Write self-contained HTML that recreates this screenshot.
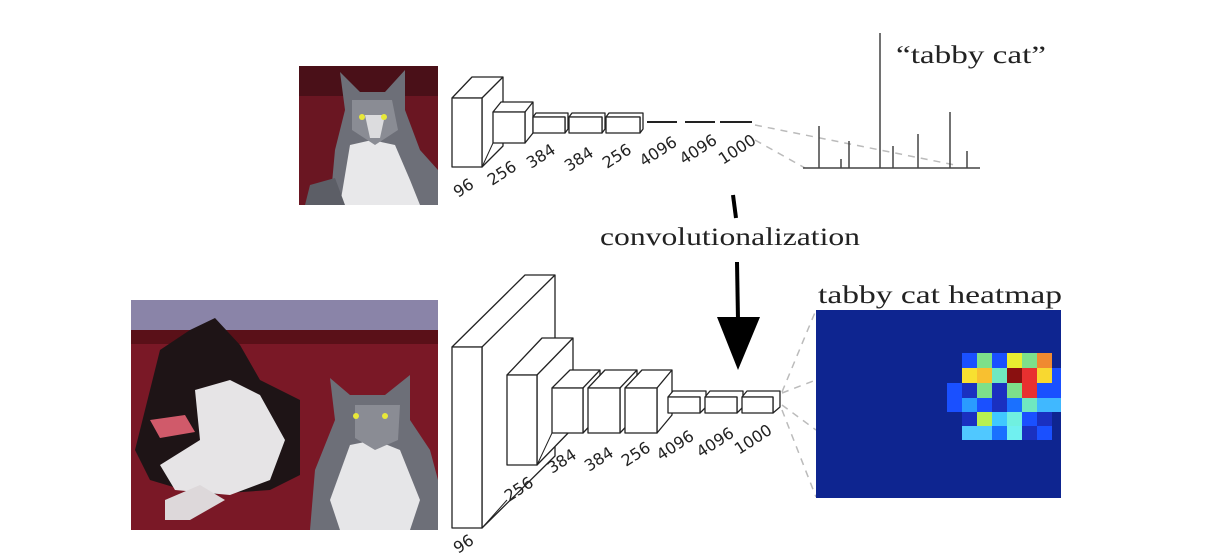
<!DOCTYPE html>
<html><head><meta charset="utf-8"><style>
html,body{margin:0;padding:0;background:#fff;}
svg{display:block;}
text{font-family:"Liberation Serif",serif;fill:#222;}
.n{font-family:"DejaVu Sans","Liberation Sans",sans-serif;font-size:16px;fill:#222;}
.b{fill:#fff;stroke:#222;stroke-width:1.3;stroke-linejoin:round;}
.d{stroke:#bbb;stroke-width:1.5;stroke-dasharray:7,6;fill:none;}
</style></head><body>
<svg width="1223" height="556" viewBox="0 0 1223 556" xmlns="http://www.w3.org/2000/svg">
<!-- top cat photo -->
<rect x="299" y="66" width="139" height="139" fill="#6a1622"/>
<rect x="299" y="66" width="139" height="30" fill="#4a1018"/>
<path d="M330 205 L335 150 L345 110 L340 72 L360 92 L385 92 L405 70 L405 110 L420 150 L438 170 L438 205Z" fill="#6d6f78"/>
<path d="M340 205 L350 145 L372 140 L395 145 L410 180 L420 205Z" fill="#e8e8ea"/>
<path d="M352 100 L392 100 L398 130 L375 145 L352 130Z" fill="#8a8c94"/>
<path d="M365 115 L385 115 L380 138 L370 138Z" fill="#dcdcde"/>
<circle cx="362" cy="117" r="3" fill="#e8e838"/><circle cx="384" cy="117" r="3" fill="#e8e838"/>
<path d="M305 205 L310 185 L335 178 L345 205Z" fill="#5c5e66"/>
<!-- top network -->
<g>
<polygon class="b" points="452,98 472,77 503,77 503,146 482,167 482,98"/>
<line x1="482" y1="98" x2="503" y2="77" stroke="#222" stroke-width="1.3"/>
<rect class="b" x="452" y="98" width="30" height="69"/>
<polygon class="b" points="493,112 501,102 533,102 533,133 525,143 525,112"/>
<line x1="525" y1="112" x2="533" y2="102" stroke="#222" stroke-width="1.3"/>
<rect class="b" x="493" y="112" width="32" height="31"/>
<polygon class="b" points="533,117 536,113 568,113 568,129 565,133 565,117"/>
<rect class="b" x="533" y="117" width="32" height="16"/>
<polygon class="b" points="569,117 572,113 605,113 605,129 602,133 602,117"/>
<rect class="b" x="569" y="117" width="33" height="16"/>
<polygon class="b" points="606,117 609,113 643,113 643,129 640,133 640,117"/>
<rect class="b" x="606" y="117" width="34" height="16"/>
<line x1="647" y1="122" x2="677" y2="122" stroke="#222" stroke-width="2"/>
<line x1="685" y1="122" x2="715" y2="122" stroke="#222" stroke-width="2"/>
<line x1="720" y1="122" x2="752" y2="122" stroke="#222" stroke-width="2"/>
<line x1="482" y1="167" x2="493" y2="143" stroke="#222" stroke-width="1"/>
</g>
<text class="n" transform="translate(458,198) rotate(-33)">96</text>
<text class="n" transform="translate(492,186) rotate(-33)">256</text>
<text class="n" transform="translate(531,169) rotate(-33)">384</text>
<text class="n" transform="translate(569,172) rotate(-33)">384</text>
<text class="n" transform="translate(607,169) rotate(-33)">256</text>
<text class="n" transform="translate(644,167) rotate(-33)">4096</text>
<text class="n" transform="translate(684,165) rotate(-33)">4096</text>
<text class="n" transform="translate(723,165) rotate(-33)">1000</text>
<!-- top dashed -->
<line class="d" x1="755" y1="125" x2="955" y2="165"/>
<line class="d" x1="755" y1="140" x2="805" y2="168"/>
<!-- bar chart -->
<g stroke="#444" stroke-width="1.5">
<line x1="803" y1="168" x2="980" y2="168"/>
<line x1="819" y1="168" x2="819" y2="126"/>
<line x1="841" y1="168" x2="841" y2="159"/>
<line x1="849" y1="168" x2="849" y2="141"/>
<line x1="880" y1="168" x2="880" y2="33"/>
<line x1="893" y1="168" x2="893" y2="146"/>
<line x1="918" y1="168" x2="918" y2="134"/>
<line x1="950" y1="168" x2="950" y2="112"/>
<line x1="967" y1="168" x2="967" y2="151"/>
</g>
<text x="896" y="63" font-size="25" textLength="150" lengthAdjust="spacingAndGlyphs">“tabby cat”</text>
<!-- arrow -->
<path d="M733 195 L736 218" stroke="#000" stroke-width="4" fill="none"/>
<path d="M737 262 L738 320" stroke="#000" stroke-width="4" fill="none"/>
<polygon points="717,317 760,317 738,370" fill="#000"/>
<text x="600" y="245" font-size="25" textLength="260" lengthAdjust="spacingAndGlyphs">convolutionalization</text>
<!-- bottom photo -->
<rect x="131" y="300" width="307" height="230" fill="#7a1826"/>
<rect x="131" y="300" width="307" height="30" fill="#8a84a8"/>
<rect x="131" y="330" width="307" height="14" fill="#5a1018"/>
<path d="M145 410 L160 350 L190 330 L215 318 L240 345 L260 380 L290 395 L300 400 L300 475 L270 490 L200 495 L150 480 L135 450Z" fill="#1e1416"/>
<path d="M195 390 L230 380 L260 395 L285 440 L270 480 L230 495 L175 490 L160 465 L200 440Z" fill="#e6e4e6"/>
<path d="M150 420 L185 415 L195 432 L160 438Z" fill="#d05a6a"/>
<path d="M165 500 L200 485 L225 500 L190 520 L165 520Z" fill="#ddd8da"/>
<path d="M310 530 L315 470 L335 420 L330 378 L350 395 L385 395 L410 375 L410 420 L430 450 L438 480 L438 530Z" fill="#6d6f78"/>
<path d="M330 500 L350 445 L375 440 L400 450 L420 500 L410 530 L340 530Z" fill="#e6e6e8"/>
<path d="M355 405 L400 405 L398 440 L375 450 L355 438Z" fill="#8a8c94"/>
<circle cx="356" cy="416" r="3" fill="#e8e838"/><circle cx="385" cy="416" r="3" fill="#e8e838"/>
<!-- bottom network -->
<g>
<polygon class="b" points="452,347 525,275 555,275 555,456 482,528 482,347"/>
<line x1="482" y1="347" x2="555" y2="275" stroke="#222" stroke-width="1.3"/>
<rect class="b" x="452" y="347" width="30" height="181"/>
<polygon class="b" points="507,375 542,338 573,338 573,428 537,465 537,375"/>
<line x1="537" y1="375" x2="573" y2="338" stroke="#222" stroke-width="1.3"/>
<rect class="b" x="507" y="375" width="30" height="90"/>
<polygon class="b" points="552,388 570,370 600,370 600,415 583,433 583,388"/>
<line x1="583" y1="388" x2="600" y2="370" stroke="#222" stroke-width="1.3"/>
<rect class="b" x="552" y="388" width="31" height="45"/>
<polygon class="b" points="588,388 605,370 637,370 637,415 620,433 620,388"/>
<line x1="620" y1="388" x2="637" y2="370" stroke="#222" stroke-width="1.3"/>
<rect class="b" x="588" y="388" width="32" height="45"/>
<polygon class="b" points="625,388 642,370 672,370 672,415 657,433 657,388"/>
<line x1="657" y1="388" x2="672" y2="370" stroke="#222" stroke-width="1.3"/>
<rect class="b" x="625" y="388" width="32" height="45"/>
<polygon class="b" points="668,397 673,391 706,391 706,407 700,413 700,397"/>
<rect class="b" x="668" y="397" width="32" height="16"/>
<polygon class="b" points="705,397 710,391 743,391 743,407 737,413 737,397"/>
<rect class="b" x="705" y="397" width="32" height="16"/>
<polygon class="b" points="742,397 747,391 780,391 780,407 773,413 773,397"/>
<rect class="b" x="742" y="397" width="31" height="16"/>
<line x1="482" y1="528" x2="507" y2="500" stroke="#222" stroke-width="1"/>
<line x1="537" y1="465" x2="552" y2="433" stroke="#222" stroke-width="1"/>
</g>
<text class="n" transform="translate(458,554) rotate(-33)">96</text>
<text class="n" transform="translate(509,502) rotate(-33)">256</text>
<text class="n" transform="translate(552,474) rotate(-33)">384</text>
<text class="n" transform="translate(589,472) rotate(-33)">384</text>
<text class="n" transform="translate(626,467) rotate(-33)">256</text>
<text class="n" transform="translate(661,461) rotate(-33)">4096</text>
<text class="n" transform="translate(701,458) rotate(-33)">4096</text>
<text class="n" transform="translate(739,455) rotate(-33)">1000</text>
<!-- bottom dashed -->
<line class="d" x1="782" y1="392" x2="816" y2="310"/>
<line class="d" x1="782" y1="393" x2="816" y2="380"/>
<line class="d" x1="782" y1="405" x2="816" y2="430"/>
<line class="d" x1="782" y1="410" x2="816" y2="497"/>
<!-- heatmap -->
<text x="818" y="303" font-size="25" textLength="244" lengthAdjust="spacingAndGlyphs">tabby cat heatmap</text>
<rect x="816" y="310" width="245" height="188" fill="#0e2590"/>
<g>
<rect x="962" y="353" width="15" height="15" fill="#1a50ff"/>
<rect x="977" y="353" width="15" height="15" fill="#7de08a"/>
<rect x="992" y="353" width="15" height="15" fill="#1a50ff"/>
<rect x="1007" y="353" width="15" height="15" fill="#e8ee30"/>
<rect x="1022" y="353" width="15" height="15" fill="#7de08a"/>
<rect x="1037" y="353" width="15" height="15" fill="#f08a30"/>
<rect x="962" y="368" width="15" height="15" fill="#f8e030"/>
<rect x="977" y="368" width="15" height="15" fill="#f8c030"/>
<rect x="992" y="368" width="15" height="15" fill="#70e8c0"/>
<rect x="1007" y="368" width="15" height="15" fill="#8a1010"/>
<rect x="1022" y="368" width="15" height="15" fill="#e83030"/>
<rect x="1037" y="368" width="15" height="15" fill="#f8d830"/>
<rect x="1052" y="368" width="9" height="15" fill="#1a50ff"/>
<rect x="947" y="383" width="15" height="15" fill="#1a50ff"/>
<rect x="962" y="383" width="15" height="15" fill="#1a30c0"/>
<rect x="977" y="383" width="15" height="15" fill="#7de08a"/>
<rect x="992" y="383" width="15" height="15" fill="#1a30c0"/>
<rect x="1007" y="383" width="15" height="15" fill="#7de08a"/>
<rect x="1022" y="383" width="15" height="15" fill="#e83030"/>
<rect x="1037" y="383" width="15" height="15" fill="#1a50ff"/>
<rect x="1052" y="383" width="9" height="15" fill="#1a50ff"/>
<rect x="947" y="398" width="15" height="14" fill="#1a50ff"/>
<rect x="962" y="398" width="15" height="14" fill="#2a9bff"/>
<rect x="977" y="398" width="15" height="14" fill="#1a50ff"/>
<rect x="992" y="398" width="15" height="14" fill="#1a30c0"/>
<rect x="1007" y="398" width="15" height="14" fill="#1a70ff"/>
<rect x="1022" y="398" width="15" height="14" fill="#70e8c0"/>
<rect x="1037" y="398" width="15" height="14" fill="#40b8ff"/>
<rect x="1052" y="398" width="9" height="14" fill="#40b8ff"/>
<rect x="962" y="412" width="15" height="14" fill="#1a30c0"/>
<rect x="977" y="412" width="15" height="14" fill="#b8f050"/>
<rect x="992" y="412" width="15" height="14" fill="#40c8ff"/>
<rect x="1007" y="412" width="15" height="14" fill="#70f0e0"/>
<rect x="1022" y="412" width="15" height="14" fill="#1a50ff"/>
<rect x="1037" y="412" width="15" height="14" fill="#1a30c0"/>
<rect x="962" y="426" width="15" height="14" fill="#50c8ff"/>
<rect x="977" y="426" width="15" height="14" fill="#50c8ff"/>
<rect x="992" y="426" width="15" height="14" fill="#1a70ff"/>
<rect x="1007" y="426" width="15" height="14" fill="#70f0f0"/>
<rect x="1022" y="426" width="15" height="14" fill="#1a30c0"/>
<rect x="1037" y="426" width="15" height="14" fill="#1a50ff"/>
</g>
</svg>
</body></html>
